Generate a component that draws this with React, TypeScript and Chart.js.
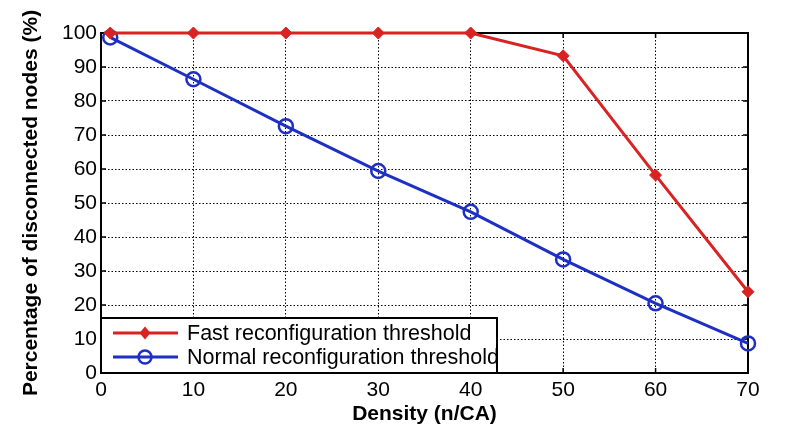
import React, { useEffect, useRef } from "react";
import { Chart, registerables } from "chart.js";

Chart.register(...registerables);

const densities = [1, 10, 20, 30, 40, 50, 60, 70];
const fastValues = [100, 100, 100, 100, 100, 93.3, 58.2, 23.9];
const normalValues = [98.7, 86.4, 72.6, 59.4, 47.4, 33.4, 20.5, 8.7];
const seriesNames = ["Fast reconfiguration threshold", "Normal reconfiguration threshold"];
const xTitle = "Density (n/CA)";
const yTitle = "Percentage of disconnected nodes (%)";

const RED = "#d92323";
const BLUE = "#1e2fc4";
const FONT = "'Liberation Sans', Arial, sans-serif";

const framePlugin = {
  id: "frame",
  beforeDatasetsDraw(chart: any) {
    const { ctx, chartArea: a } = chart;
    ctx.save();
    ctx.strokeStyle = "#000";
    ctx.lineWidth = 2;
    ctx.strokeRect(a.left, a.top, a.right - a.left, a.bottom - a.top);
    ctx.lineWidth = 1.5;
    const xs = chart.scales.x;
    const ys = chart.scales.y;
    ys.ticks.forEach((t: any) => {
      const y = ys.getPixelForValue(t.value);
      ctx.beginPath();
      ctx.moveTo(a.left, y);
      ctx.lineTo(a.left + 5, y);
      ctx.moveTo(a.right, y);
      ctx.lineTo(a.right - 5, y);
      ctx.stroke();
    });
    xs.ticks.forEach((t: any) => {
      const x = xs.getPixelForValue(t.value);
      ctx.beginPath();
      ctx.moveTo(x, a.bottom);
      ctx.lineTo(x, a.bottom - 5);
      ctx.moveTo(x, a.top);
      ctx.lineTo(x, a.top + 5);
      ctx.stroke();
    });
    ctx.restore();
  },
};

const legendPlugin = {
  id: "boxLegend",
  afterDatasetsDraw(chart: any) {
    const { ctx, chartArea: a } = chart;
    const left = a.left;
    const bottom = a.bottom;
    const w = 396;
    const h = 55;
    const top = bottom - h;
    ctx.save();
    ctx.fillStyle = "#fff";
    ctx.fillRect(left, top, w, h);
    ctx.strokeStyle = "#000";
    ctx.lineWidth = 2;
    ctx.strokeRect(left, top, w, h);
    const rows = [
      { y: top + 15, color: RED, style: "diamond", label: seriesNames[0] },
      { y: top + 39, color: BLUE, style: "circle", label: seriesNames[1] },
    ];
    rows.forEach((r) => {
      ctx.strokeStyle = r.color;
      ctx.lineWidth = 3;
      ctx.beginPath();
      ctx.moveTo(left + 12, r.y);
      ctx.lineTo(left + 77, r.y);
      ctx.stroke();
      const cx = left + 44;
      if (r.style === "diamond") {
        ctx.fillStyle = r.color;
        ctx.beginPath();
        ctx.moveTo(cx, r.y - 6.5);
        ctx.lineTo(cx + 5.5, r.y);
        ctx.lineTo(cx, r.y + 6.5);
        ctx.lineTo(cx - 5.5, r.y);
        ctx.closePath();
        ctx.fill();
      } else {
        ctx.lineWidth = 2.5;
        ctx.beginPath();
        ctx.arc(cx, r.y, 6.5, 0, Math.PI * 2);
        ctx.stroke();
      }
      ctx.fillStyle = "#000";
      ctx.font = `21.5px ${FONT}`;
      ctx.textBaseline = "middle";
      ctx.textAlign = "left";
      ctx.fillText(r.label, left + 86, r.y + 1);
    });
    ctx.restore();
  },
};

export default function App() {
  const ref = useRef<HTMLCanvasElement>(null);
  useEffect(() => {
    if (!ref.current) return;
    const chart = new Chart(ref.current, {
      type: "line",
      data: {
        datasets: [
          {
            label: seriesNames[0],
            data: densities.map((x, i) => ({ x, y: fastValues[i] })),
            borderColor: RED,
            backgroundColor: RED,
            borderWidth: 3,
            pointStyle: "rectRot",
            pointRadius: 6,
            pointBackgroundColor: RED,
            pointBorderColor: RED,
            pointBorderWidth: 1,
            tension: 0,
            clip: false,
          },
          {
            label: seriesNames[1],
            data: densities.map((x, i) => ({ x, y: normalValues[i] })),
            borderColor: BLUE,
            backgroundColor: "rgba(0,0,0,0)",
            borderWidth: 3,
            pointStyle: "circle",
            pointRadius: 7,
            pointBackgroundColor: "rgba(0,0,0,0)",
            pointBorderColor: BLUE,
            pointBorderWidth: 2.5,
            tension: 0,
            clip: false,
          },
        ],
      },
      options: {
        responsive: false,
        animation: false,
        layout: { padding: { left: 0, right: 60, top: 33, bottom: 0 } },
        plugins: { legend: { display: false }, tooltip: { enabled: false } },
        scales: {
          x: {
            type: "linear",
            min: 0,
            max: 70,
            afterFit: (s: any) => {
              s.height = 68;
            },
            ticks: {
              stepSize: 10,
              color: "#000",
              padding: 5,
              font: { family: FONT, size: 21 },
              maxRotation: 0,
            },
            grid: { color: "#000", lineWidth: 1, drawTicks: false },
            border: { display: false, dash: [1.5, 2] },
            title: {
              display: true,
              text: xTitle,
              color: "#000",
              font: { family: FONT, size: 21, weight: "bold" },
              padding: { top: 0, bottom: 14 },
            },
          },
          y: {
            min: 0,
            max: 100,
            afterFit: (s: any) => {
              s.width = 101;
            },
            ticks: {
              stepSize: 10,
              color: "#000",
              padding: 4,
              font: { family: FONT, size: 21 },
            },
            grid: { color: "#000", lineWidth: 1, drawTicks: false },
            border: { display: false, dash: [1.5, 2] },
            title: {
              display: true,
              text: yTitle,
              color: "#000",
              font: { family: FONT, size: 21, weight: "bold" },
              padding: { top: 19, bottom: 0 },
            },
          },
        },
      },
      plugins: [framePlugin, legendPlugin],
    } as any);
    return () => chart.destroy();
  }, []);
  return (
    <div style={{ position: "fixed", left: 0, top: 0, width: 808, height: 441, background: "#fff" }}>
      <canvas ref={ref} width={808} height={441} style={{ display: "block" }} />
    </div>
  );
}
